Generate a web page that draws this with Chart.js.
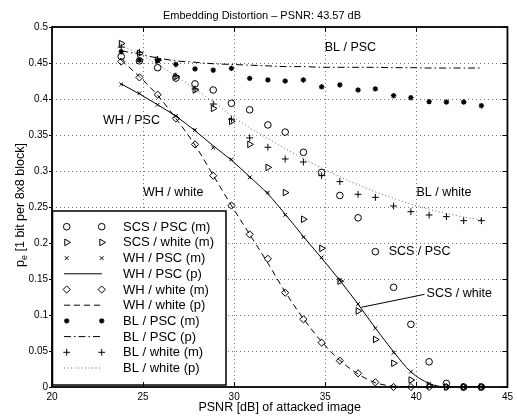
<!DOCTYPE html>
<html>
<head>
<meta charset="utf-8">
<script src="https://cdn.jsdelivr.net/npm/chart.js@4.4.0/dist/chart.umd.min.js"></script>
<style>
  html, body { margin: 0; padding: 0; background: #fff; }
</style>
</head>
<body>
<canvas id="myChart" width="517" height="416"></canvas>
<script>
// attack PSNR values (x), shared by every series
const xs = [23.8, 24.8, 25.8, 26.8, 27.85, 28.85, 29.85, 30.85, 31.85, 32.8, 33.8, 34.8, 35.8, 36.8, 37.75, 38.75, 39.7, 40.7, 41.65, 42.6, 43.57];

// measured (m) and predicted (p) error rates
const scsPscM   = [0.459, 0.453, 0.4435, 0.429, 0.421, 0.4125, 0.394, 0.385, 0.364, 0.354, 0.326, 0.298, 0.266, 0.235, 0.188, 0.1385, 0.087, 0.035, 0.005, 0, 0];
const scsWhiteM = [0.477, 0.4634, 0.454, 0.431, 0.4125, 0.387, 0.369, 0.337, 0.305, 0.27, 0.233, 0.1926, 0.147, 0.1056, 0.066, 0.033, 0.0097, 0.002, 0, 0, 0];
const whPscM    = [0.4204, 0.408, 0.392, 0.3764, 0.357, 0.3324, 0.3162, 0.2912, 0.27, 0.239, 0.208, 0.18, 0.1486, 0.1153, 0.0815, 0.0476, 0.0213, 0.0046, 0, 0, 0];
const whPscP    = [0.421, 0.407, 0.392, 0.376, 0.356, 0.335, 0.315, 0.292, 0.268, 0.24, 0.209, 0.179, 0.148, 0.115, 0.082, 0.049, 0.021, 0.005, 0, 0, 0];
const whWhiteM  = [0.452, 0.430, 0.406, 0.373, 0.337, 0.2935, 0.252, 0.212, 0.178, 0.131, 0.094, 0.0616, 0.0365, 0.019, 0.0065, 0, 0, 0, 0, 0, 0];
const whWhiteP  = [0.454, 0.431, 0.405, 0.373, 0.336, 0.294, 0.252, 0.212, 0.172, 0.132, 0.095, 0.063, 0.037, 0.018, 0.006, 0.001, 0, 0, 0, 0, 0];
const blPscM    = [0.4657, 0.454, 0.453, 0.448, 0.4417, 0.44, 0.4426, 0.4287, 0.4264, 0.425, 0.4264, 0.417, 0.4195, 0.4125, 0.414, 0.4046, 0.4018, 0.3963, 0.3958, 0.3958, 0.3907];
const blPscP    = [0.467, 0.462, 0.457, 0.453, 0.451, 0.449, 0.448, 0.447, 0.446, 0.445, 0.445, 0.444, 0.444, 0.444, 0.444, 0.4435, 0.4435, 0.443, 0.443, 0.443, 0.443];
const blWhiteM  = [0.472, 0.465, 0.455, 0.432, 0.414, 0.393, 0.372, 0.346, 0.333, 0.3167, 0.3125, 0.2935, 0.2852, 0.2676, 0.2634, 0.2514, 0.2435, 0.2389, 0.2366, 0.231, 0.231];
const blWhiteP  = [0.474, 0.462, 0.448, 0.432, 0.414, 0.396, 0.377, 0.36, 0.345, 0.331, 0.317, 0.304, 0.292, 0.281, 0.271, 0.262, 0.254, 0.247, 0.241, 0.236, 0.232];

const xTickVals = [20, 25, 30, 35, 40, 45];
const yTickVals = [0, 0.05, 0.1, 0.15, 0.2, 0.25, 0.3, 0.35, 0.4, 0.45, 0.5];
const yTickLabels = ['0', '0.05', '0.1', '0.15', '0.2', '0.25', '0.3', '0.35', '0.4', '0.45', '0.5'];

// curve names written in the plot (data coords of left edge / middle)
const notes = [
  { text: 'BL / PSC', x: 34.97, y: 0.4708 },
  { text: 'WH / PSC', x: 22.8, y: 0.3694 },
  { text: 'WH / white', x: 24.99, y: 0.2694 },
  { text: 'BL / white', x: 40.01, y: 0.2694 },
  { text: 'SCS / PSC', x: 38.48, y: 0.1875 },
  { text: 'SCS / white', x: 40.56, y: 0.1292 }
];
const pointer = [[36.98, 0.1107], [40.45, 0.1287]];

const FONT = "'Liberation Sans', Arial, Helvetica, sans-serif";

function pts(arr) {
  return arr.map((v, i) => ({ x: xs[i], y: v }));
}

function markers(label, arr, style, radius, rot, bw) {
  return {
    label: label,
    data: pts(arr),
    showLine: false,
    pointStyle: style,
    pointRadius: radius,
    pointHoverRadius: radius,
    pointRotation: rot || 0,
    pointBorderWidth: bw || 1,
    borderColor: '#000',
    backgroundColor: 'rgba(0,0,0,0)',
    clip: 8
  };
}

function curve(label, arr, dash, color) {
  return {
    label: label,
    data: pts(arr),
    showLine: true,
    pointRadius: 0,
    borderColor: color || '#000',
    borderWidth: 1,
    borderDash: dash,
    cubicInterpolationMode: 'monotone',
    fill: false
  };
}

const datasets = [
  markers('SCS / PSC (m)', scsPscM, 'circle', 3.3),
  markers('SCS / white (m)', scsWhiteM, 'triangle', 3.8, 90),
  markers('WH / PSC (m)', whPscM, 'crossRot', 2.6),
  curve('WH / PSC (p)', whPscP, []),
  markers('WH / white (m)', whWhiteM, 'rectRot', 3.6),
  curve('WH / white (p)', whWhiteP, [6, 4]),
  markers('BL / PSC (m)', blPscM, 'star', 2.7, 0, 1.3),
  curve('BL / PSC (p)', blPscP, [7, 3, 1.5, 3]),
  markers('BL / white (m)', blWhiteM, 'cross', 3.4),
  curve('BL / white (p)', blWhiteP, [1, 2.5], '#666')
];

// dotted MATLAB-like grid under the data
const dottedGrid = {
  id: 'dottedGrid',
  beforeDatasetsDraw(chart) {
    const c = chart.ctx;
    const a = chart.chartArea;
    const sx = chart.scales.x, sy = chart.scales.y;
    c.save();
    c.strokeStyle = 'rgba(0,0,0,0.55)';
    c.lineWidth = 1;
    c.setLineDash([1, 3]);
    c.beginPath();
    xTickVals.slice(1, -1).forEach(v => {
      const px = Math.round(sx.getPixelForValue(v)) + 0.5;
      c.moveTo(px, a.top); c.lineTo(px, a.bottom);
    });
    yTickVals.slice(1, -1).forEach(v => {
      const py = Math.round(sy.getPixelForValue(v)) + 0.5;
      c.moveTo(a.left, py); c.lineTo(a.right, py);
    });
    c.stroke();
    c.restore();
  }
};

// legend inside the axes, bottom-left, MATLAB style
const legendBox = {
  id: 'legendBox',
  afterDatasetsDraw(chart) {
    const c = chart.ctx;
    const left = 52.5, top = 211, right = 226, bottom = 385;
    c.save();
    c.fillStyle = '#fff';
    c.fillRect(left, top, right - left, bottom - top);
    c.lineWidth = 1.5;
    c.strokeStyle = '#000';
    c.strokeRect(left, top, right - left, bottom - top);
    c.font = '13px ' + FONT;
    c.textBaseline = 'middle';
    chart.data.datasets.forEach((ds, i) => {
      const y = 226.7 + i * 15.7;
      c.strokeStyle = ds.borderColor;
      if (ds.showLine) {
        c.lineWidth = ds.borderWidth;
        c.setLineDash(ds.borderDash || []);
        c.beginPath();
        c.moveTo(64, y);
        c.lineTo(102, y);
        c.stroke();
        c.setLineDash([]);
      } else {
        c.fillStyle = 'rgba(0,0,0,0)';
        c.lineWidth = ds.pointBorderWidth;
        const opts = { pointStyle: ds.pointStyle, rotation: ds.pointRotation, radius: ds.pointRadius, borderWidth: ds.pointBorderWidth };
        [66.7, 101.7].forEach(px => Chart.helpers.drawPoint(c, opts, px, y));
      }
      c.fillStyle = '#000';
      c.fillText(ds.label, 123, y + 0.5);
    });
    c.restore();
  }
};

const decor = {
  id: 'decor',
  afterDraw(chart) {
    const c = chart.ctx;
    const a = chart.chartArea;
    const sx = chart.scales.x, sy = chart.scales.y;
    c.save();
    c.strokeStyle = '#000';
    // frame
    c.lineWidth = 1.8;
    c.strokeRect(a.left, a.top, a.right - a.left, a.bottom - a.top);
    // tick marks
    c.lineWidth = 1;
    c.beginPath();
    xTickVals.forEach(v => {
      const px = Math.round(sx.getPixelForValue(v)) + 0.5;
      c.moveTo(px, a.bottom); c.lineTo(px, a.bottom - 5);
      c.moveTo(px, a.top); c.lineTo(px, a.top + 5);
    });
    yTickVals.forEach(v => {
      const py = Math.round(sy.getPixelForValue(v)) + 0.5;
      c.moveTo(a.left - 3, py); c.lineTo(a.left, py);
      c.moveTo(a.right, py); c.lineTo(a.right - 5, py);
    });
    c.stroke();

    // title
    c.fillStyle = '#000';
    c.textBaseline = 'middle';
    c.textAlign = 'center';
    c.font = '11px ' + FONT;
    c.fillText('Embedding Distortion \u2013 PSNR: 43.57 dB', 262, 15.5);

    // y axis title with subscript
    c.save();
    c.translate(20.5, 205);
    c.rotate(-Math.PI / 2);
    c.textAlign = 'left';
    const rest = ' [1 bit per 8x8 block]';
    c.font = '9px ' + FONT;
    const we = c.measureText('e').width;
    c.font = '12.5px ' + FONT;
    const wp = c.measureText('p').width;
    const wr = c.measureText(rest).width;
    const x0 = -(wp + we + wr) / 2;
    c.fillText('p', x0, 0);
    c.font = '9px ' + FONT;
    c.fillText('e', x0 + wp, 4);
    c.font = '12.5px ' + FONT;
    c.fillText(rest, x0 + wp + we, 0);
    c.restore();

    // curve names
    c.textAlign = 'left';
    c.font = '12.5px ' + FONT;
    notes.forEach(n => {
      c.fillText(n.text, sx.getPixelForValue(n.x), sy.getPixelForValue(n.y));
    });
    c.beginPath();
    c.moveTo(sx.getPixelForValue(pointer[0][0]), sy.getPixelForValue(pointer[0][1]));
    c.lineTo(sx.getPixelForValue(pointer[1][0]), sy.getPixelForValue(pointer[1][1]));
    c.stroke();
    c.restore();
  }
};

const ctx = document.getElementById('myChart');
const myChart = new Chart(ctx, {
  type: 'scatter',
  data: { datasets: datasets },
  options: {
    responsive: false,
    animation: false,
    events: [],
    layout: { padding: { top: 27, right: 9, left: 0, bottom: 0 } },
    plugins: {
      legend: { display: false },
      tooltip: { enabled: false },
      title: { display: false }
    },
    scales: {
      x: {
        type: 'linear',
        min: 20,
        max: 45,
        afterFit: s => { s.height = 29; },
        afterBuildTicks: s => { s.ticks = xTickVals.map(v => ({ value: v })); },
        grid: { display: false, drawTicks: false },
        border: { display: false },
        ticks: {
          color: '#000',
          padding: 4,
          maxRotation: 0,
          font: { family: FONT, size: 10 },
          callback: v => String(v)
        },
        title: {
          display: true,
          text: 'PSNR [dB] of attacked image',
          color: '#000',
          font: { family: FONT, size: 12.5 },
          padding: { top: 0, bottom: 1 }
        }
      },
      y: {
        type: 'linear',
        min: 0,
        max: 0.5,
        afterFit: s => { s.width = 52; },
        afterBuildTicks: s => { s.ticks = yTickVals.map(v => ({ value: v })); },
        grid: { display: false, drawTicks: false },
        border: { display: false },
        ticks: {
          color: '#000',
          padding: 4,
          font: { family: FONT, size: 10 },
          callback: (v, i) => yTickLabels[i]
        }
      }
    }
  },
  plugins: [dottedGrid, legendBox, decor]
});
</script>
</body>
</html>
